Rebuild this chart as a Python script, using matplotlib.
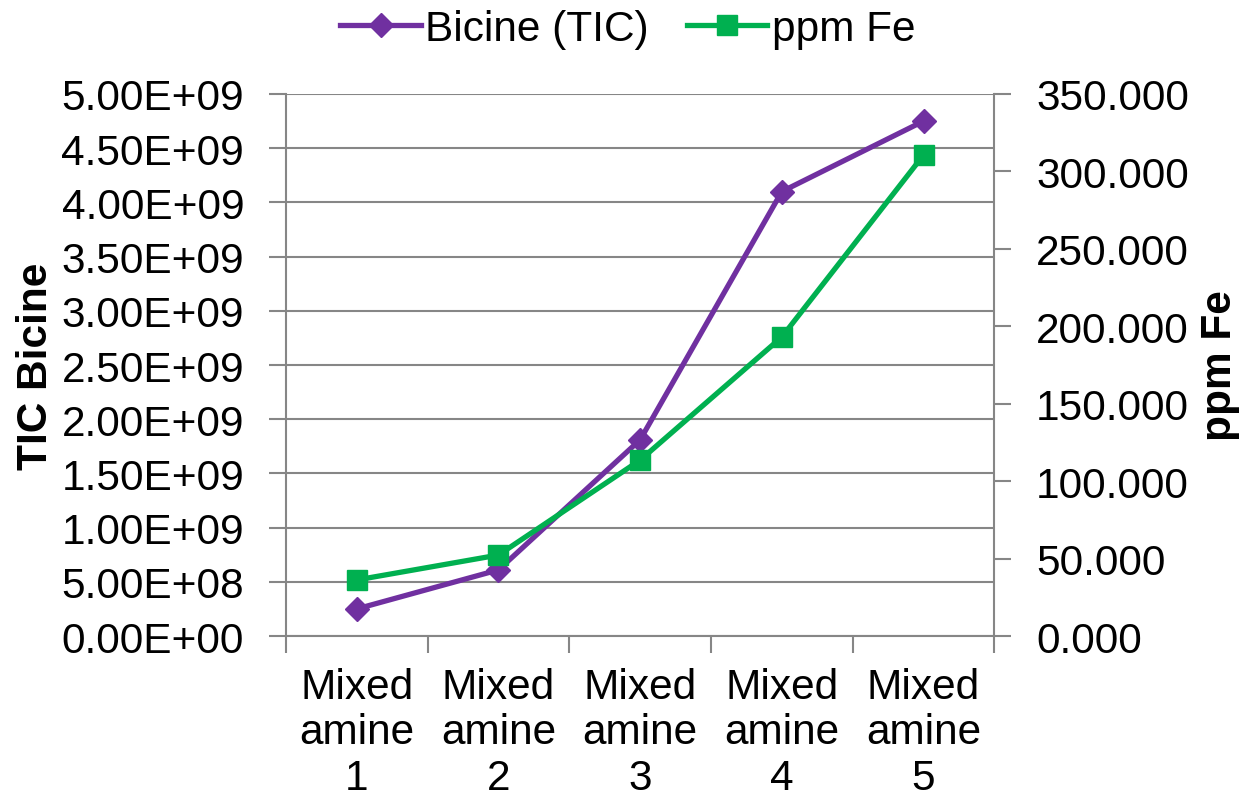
import matplotlib
matplotlib.use('Agg')
from matplotlib import pyplot as plt
from matplotlib.ticker import MultipleLocator, FuncFormatter

categories = ['Mixed\namine\n1', 'Mixed\namine\n2', 'Mixed\namine\n3',
              'Mixed\namine\n4', 'Mixed\namine\n5']
bicine_tic = [2.5e8, 6.1e8, 1.81e9, 4.10e9, 4.75e9]
ppm_fe = [36.2, 52.3, 113.6, 193.1, 310.6]

purple = '#7030A0'
green = '#00B050'
grey = '#868686'

plt.rcParams['font.family'] = ['Liberation Sans', 'DejaVu Sans']
plt.rcParams['font.size'] = 30.5

fig = plt.figure(figsize=(12.43, 8.03), dpi=100)
ax = fig.add_axes([0.230, 0.2067, 0.570, 0.675])
ax2 = ax.twinx()

x = list(range(len(categories)))
l1, = ax.plot(x, bicine_tic, color=purple, linewidth=3.8, marker='D',
              markersize=12, label='Bicine (TIC)', zorder=3)
l2, = ax2.plot(x, ppm_fe, color=green, linewidth=3.8, marker='s',
               markersize=14, label='ppm Fe', zorder=3)

ax.set_xlim(-0.5, len(categories) - 0.5)
ax.set_ylim(0, 5e9)
ax2.set_ylim(0, 350)

ax.yaxis.set_major_locator(MultipleLocator(5e8))
ax.yaxis.set_major_formatter(FuncFormatter(lambda v, p: '%.2E' % v))
ax2.yaxis.set_major_locator(MultipleLocator(50))
ax2.yaxis.set_major_formatter(FuncFormatter(lambda v, p: '%.3f' % v))

# category boundaries get tick marks, labels sit at the centres
ax.set_xticks([i - 0.5 for i in range(len(categories) + 1)])
ax.set_xticklabels([])
ax.set_xticks(x, minor=True)
ax.set_xticklabels(categories, minor=True, linespacing=1.19)
ax.tick_params(axis='x', which='minor', length=0, pad=22)
ax.tick_params(axis='x', which='major', length=12, width=1.5, color=grey)

ax.grid(axis='y', color=grey, linewidth=1.5)
ax.set_axisbelow(True)

for a in (ax, ax2):
    for s in a.spines.values():
        s.set_visible(False)
for a, side in ((ax, 'left'), (ax, 'bottom'), (ax2, 'right')):
    a.spines[side].set_visible(True)
    a.spines[side].set_color(grey)
    a.spines[side].set_linewidth(1.5)

ax.tick_params(axis='y', length=12, width=1.5, color=grey, pad=18)
ax2.tick_params(axis='y', length=12, width=1.5, color=grey, pad=18)

ax.set_ylabel('TIC Bicine', fontweight='bold', labelpad=4)
ax2.set_ylabel('ppm Fe', fontweight='bold', labelpad=8)

fig.legend(handles=[l1, l2], loc='upper center', bbox_to_anchor=(0.505, 1.035),
           ncol=2, frameon=False, handlelength=1.9, handletextpad=0.1,
           columnspacing=0.9)

fig.savefig('out.png', dpi=100)
